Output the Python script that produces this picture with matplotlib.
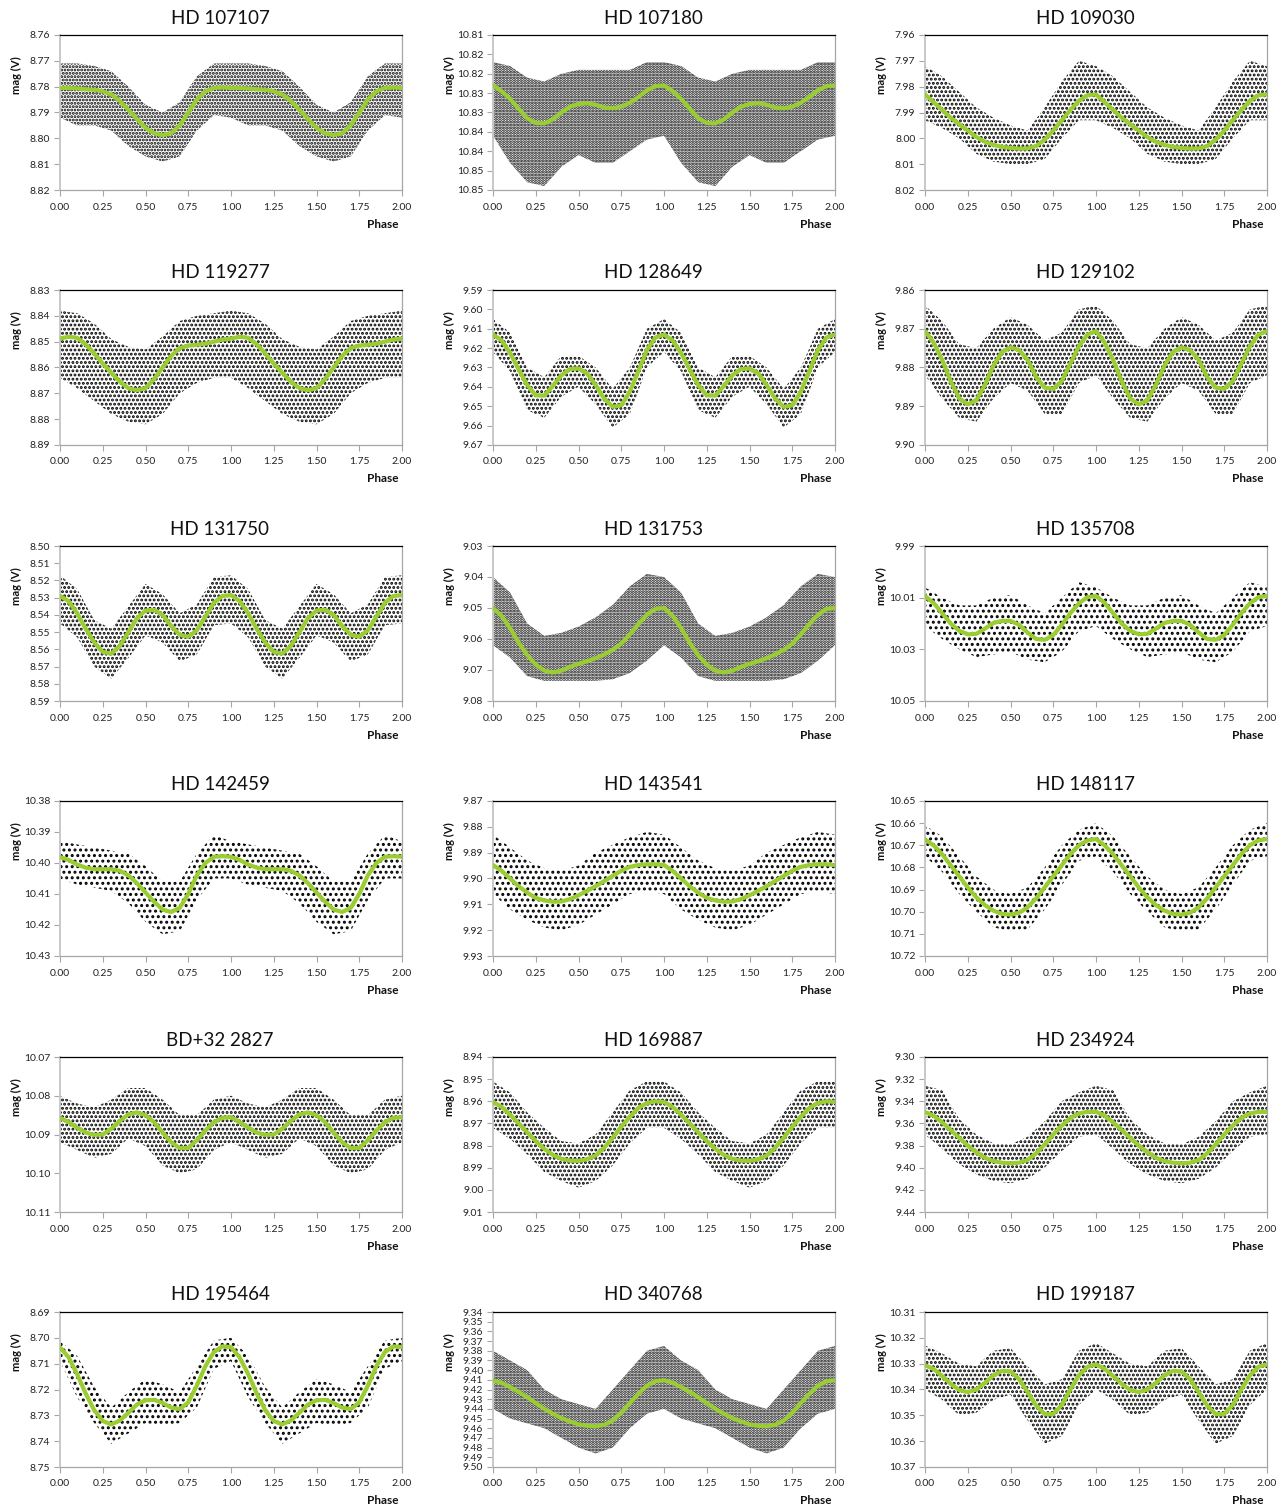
import numpy as np
import matplotlib
matplotlib.use("Agg")
import matplotlib.pyplot as plt
from decimal import Decimal, ROUND_HALF_UP

plt.rcParams['font.family'] = ['Lato', 'DejaVu Sans']
plt.rcParams['hatch.linewidth'] = 1.4

# ---------------- data ----------------
stars = ["HD 107107", "HD 107180", "HD 109030",
         "HD 119277", "HD 128649", "HD 129102",
         "HD 131750", "HD 131753", "HD 135708",
         "HD 142459", "HD 143541", "HD 148117",
         "BD+32 2827", "HD 169887", "HD 234924",
         "HD 195464", "HD 340768", "HD 199187"]

# y axis (magnitude) range: top value, bottom value, tick step
ylim_top = [8.76, 10.81, 7.96, 8.83, 9.59, 9.86, 8.50, 9.03, 9.99,
            10.38, 9.87, 10.65, 10.07, 8.94, 9.30, 8.69, 9.34, 10.31]
ylim_bottom = [8.82, 10.85, 8.02, 8.89, 9.67, 9.90, 8.59, 9.08, 10.05,
               10.43, 9.93, 10.72, 10.11, 9.01, 9.44, 8.75, 9.50, 10.37]
ytick_step = [0.01, 0.005, 0.01, 0.01, 0.01, 0.01, 0.01, 0.01, 0.02,
              0.01, 0.01, 0.01, 0.01, 0.01, 0.02, 0.01, 0.01, 0.01]

xticks = [0.00, 0.25, 0.50, 0.75, 1.00, 1.25, 1.50, 1.75, 2.00]
xtick_labels = ["0.00", "0.25", "0.50", "0.75", "1.00", "1.25", "1.50", "1.75", "2.00"]

# phases of the fitted curve samples (one cycle)
curve_phase = [0.00, 0.05, 0.10, 0.15, 0.20, 0.25, 0.30, 0.35, 0.40, 0.45, 0.50,
               0.55, 0.60, 0.65, 0.70, 0.75, 0.80, 0.85, 0.90, 0.95, 1.00]
# phases of the observed-point cloud edges (one cycle)
cloud_phase = [0.0, 0.1, 0.2, 0.3, 0.4, 0.5, 0.6, 0.7, 0.8, 0.9, 1.0]

fit_107107 = [8.7805, 8.7805, 8.7807, 8.7810, 8.7812, 8.7818, 8.7830, 8.7855, 8.7890, 8.7925, 8.7960,
              8.7980, 8.7988, 8.7980, 8.7950, 8.7900, 8.7850, 8.7818, 8.7805, 8.7803, 8.7805]
top_107107 = [8.771, 8.771, 8.772, 8.774, 8.780, 8.787, 8.790, 8.786, 8.776, 8.771, 8.771]
bot_107107 = [8.792, 8.795, 8.795, 8.797, 8.803, 8.807, 8.809, 8.807, 8.797, 8.791, 8.792]

fit_107180 = [10.8230, 10.8245, 10.8265, 10.8290, 10.8315, 10.8327, 10.8328, 10.8318, 10.8300, 10.8285, 10.8278,
              10.8276, 10.8280, 10.8287, 10.8289, 10.8285, 10.8275, 10.8260, 10.8243, 10.8232, 10.8230]
top_107180 = [10.817, 10.818, 10.821, 10.822, 10.820, 10.819, 10.819, 10.819, 10.819, 10.817, 10.817]
bot_107180 = [10.836, 10.843, 10.848, 10.849, 10.844, 10.841, 10.843, 10.843, 10.840, 10.837, 10.836]

fit_109030 = [7.9830, 7.9860, 7.9890, 7.9920, 7.9945, 7.9970, 7.9995, 8.0013, 8.0025, 8.0033, 8.0037,
              8.0040, 8.0039, 8.0030, 8.0005, 7.9970, 7.9930, 7.9890, 7.9855, 7.9833, 7.9830]
top_109030 = [7.972, 7.976, 7.982, 7.988, 7.992, 7.995, 7.997, 7.988, 7.978, 7.970, 7.972]
bot_109030 = [7.993, 7.996, 8.000, 8.006, 8.009, 8.010, 8.010, 8.008, 8.000, 7.993, 7.993]

fit_119277 = [8.8488, 8.8481, 8.8485, 8.8510, 8.8545, 8.8585, 8.8620, 8.8655, 8.8680, 8.8688, 8.8680,
              8.8645, 8.8600, 8.8555, 8.8525, 8.8515, 8.8512, 8.8508, 8.8500, 8.8492, 8.8488]
top_119277 = [8.838, 8.839, 8.843, 8.849, 8.852, 8.853, 8.848, 8.842, 8.840, 8.839, 8.838]
bot_119277 = [8.864, 8.868, 8.873, 8.878, 8.881, 8.882, 8.878, 8.870, 8.866, 8.864, 8.864]

fit_128649 = [9.6130, 9.6160, 9.6225, 9.6310, 9.6390, 9.6443, 9.6445, 9.6395, 9.6340, 9.6308, 9.6305,
              9.6330, 9.6390, 9.6460, 9.6503, 9.6495, 9.6425, 9.6320, 9.6210, 9.6145, 9.6130]
top_128649 = [9.605, 9.612, 9.630, 9.635, 9.624, 9.624, 9.630, 9.641, 9.630, 9.610, 9.605]
bot_128649 = [9.622, 9.632, 9.652, 9.656, 9.645, 9.640, 9.649, 9.661, 9.654, 9.630, 9.622]

fit_129102 = [9.8706, 9.8735, 9.8780, 9.8835, 9.8880, 9.8895, 9.8885, 9.8845, 9.8795, 9.8760, 9.8748,
              9.8755, 9.8780, 9.8825, 9.8852, 9.8855, 9.8835, 9.8790, 9.8745, 9.8715, 9.8706]
top_129102 = [9.864, 9.868, 9.874, 9.875, 9.870, 9.867, 9.869, 9.873, 9.871, 9.865, 9.864]
bot_129102 = [9.882, 9.888, 9.893, 9.894, 9.888, 9.884, 9.886, 9.892, 9.892, 9.884, 9.882]

fit_131750 = [8.5290, 8.5320, 8.5390, 8.5480, 8.5560, 8.5615, 8.5625, 8.5580, 8.5500, 8.5420, 8.5375,
              8.5370, 8.5400, 8.5465, 8.5515, 8.5527, 8.5490, 8.5410, 8.5330, 8.5290, 8.5285]
top_131750 = [8.517, 8.525, 8.543, 8.548, 8.535, 8.522, 8.528, 8.539, 8.534, 8.518, 8.517]
bot_131750 = [8.545, 8.553, 8.570, 8.577, 8.565, 8.552, 8.556, 8.567, 8.563, 8.546, 8.545]

fit_131753 = [9.0500, 9.0525, 9.0565, 9.0612, 9.0652, 9.0683, 9.0702, 9.0708, 9.0702, 9.0690, 9.0680,
              9.0672, 9.0662, 9.0650, 9.0635, 9.0615, 9.0585, 9.0552, 9.0522, 9.0503, 9.0500]
top_131753 = [9.040, 9.045, 9.055, 9.059, 9.058, 9.056, 9.053, 9.049, 9.043, 9.039, 9.040]
bot_131753 = [9.062, 9.066, 9.072, 9.0735, 9.0735, 9.0735, 9.0735, 9.073, 9.071, 9.067, 9.062]

fit_135708 = [10.0094, 10.0120, 10.0160, 10.0200, 10.0228, 10.0242, 10.0240, 10.0220, 10.0198, 10.0190, 10.0190,
              10.0205, 10.0235, 10.0260, 10.0263, 10.0245, 10.0205, 10.0160, 10.0122, 10.0098, 10.0093]
top_135708 = [10.006, 10.010, 10.013, 10.013, 10.010, 10.009, 10.013, 10.016, 10.010, 10.004, 10.006]
bot_135708 = [10.021, 10.026, 10.030, 10.033, 10.032, 10.031, 10.034, 10.035, 10.031, 10.023, 10.021]

fit_142459 = [10.3981, 10.3990, 10.4005, 10.4015, 10.4020, 10.4020, 10.4020, 10.4025, 10.4040, 10.4065, 10.4095,
              10.4125, 10.4150, 10.4158, 10.4145, 10.4100, 10.4040, 10.4000, 10.3980, 10.3978, 10.3980]
top_142459 = [10.393, 10.394, 10.395, 10.396, 10.397, 10.401, 10.406, 10.406, 10.397, 10.391, 10.393]
bot_142459 = [10.405, 10.407, 10.408, 10.409, 10.413, 10.419, 10.423, 10.422, 10.412, 10.405, 10.405]

fit_143541 = [9.8948, 9.8970, 9.9000, 9.9030, 9.9055, 9.9075, 9.9085, 9.9090, 9.9089, 9.9080, 9.9065,
              9.9048, 9.9030, 9.9010, 9.8990, 9.8970, 9.8955, 9.8948, 9.8945, 9.8945, 9.8948]
top_143541 = [9.883, 9.888, 9.893, 9.896, 9.897, 9.895, 9.890, 9.887, 9.884, 9.882, 9.883]
bot_143541 = [9.906, 9.912, 9.916, 9.919, 9.920, 9.918, 9.914, 9.910, 9.906, 9.905, 9.906]

fit_148117 = [10.6674, 10.6700, 10.6740, 10.6790, 10.6840, 10.6890, 10.6935, 10.6970, 10.6995, 10.7010, 10.7013,
              10.7005, 10.6980, 10.6940, 10.6890, 10.6840, 10.6790, 10.6740, 10.6700, 10.6678, 10.6672]
top_148117 = [10.661, 10.666, 10.675, 10.684, 10.690, 10.692, 10.689, 10.680, 10.670, 10.663, 10.660]
bot_148117 = [10.675, 10.682, 10.692, 10.700, 10.707, 10.709, 10.708, 10.699, 10.688, 10.677, 10.675]

fit_bd322827 = [10.0857, 10.0868, 10.0882, 10.0895, 10.0901, 10.0900, 10.0885, 10.0865, 10.0848, 10.0843, 10.0850,
                10.0868, 10.0895, 10.0920, 10.0935, 10.0935, 10.0915, 10.0890, 10.0868, 10.0857, 10.0855]
top_bd322827 = [10.080, 10.082, 10.083, 10.081, 10.078, 10.078, 10.081, 10.085, 10.085, 10.081, 10.080]
bot_bd322827 = [10.092, 10.094, 10.096, 10.095, 10.091, 10.093, 10.098, 10.100, 10.099, 10.094, 10.092]

fit_169887 = [8.9604, 8.9625, 8.9660, 8.9700, 8.9740, 8.9780, 8.9815, 8.9842, 8.9860, 8.9868, 8.9869,
              8.9862, 8.9845, 8.9810, 8.9765, 8.9715, 8.9670, 8.9630, 8.9608, 8.9600, 8.9603]
top_169887 = [8.951, 8.956, 8.965, 8.972, 8.978, 8.979, 8.975, 8.965, 8.955, 8.951, 8.951]
bot_169887 = [8.972, 8.977, 8.984, 8.992, 8.996, 8.999, 8.996, 8.989, 8.979, 8.972, 8.972]

fit_234924 = [9.3497, 9.3530, 9.3590, 9.3660, 9.3730, 9.3800, 9.3860, 9.3910, 9.3940, 9.3955, 9.3960,
              9.3955, 9.3930, 9.3870, 9.3790, 9.3700, 9.3620, 9.3550, 9.3510, 9.3495, 9.3495]
top_234924 = [9.326, 9.330, 9.356, 9.370, 9.378, 9.379, 9.372, 9.358, 9.340, 9.332, 9.326]
bot_234924 = [9.370, 9.383, 9.397, 9.406, 9.412, 9.414, 9.410, 9.400, 9.385, 9.372, 9.370]

fit_195464 = [8.7037, 8.7075, 8.7140, 8.7215, 8.7280, 8.7322, 8.7335, 8.7320, 8.7290, 8.7258, 8.7242,
              8.7240, 8.7252, 8.7270, 8.7276, 8.7250, 8.7185, 8.7110, 8.7055, 8.7033, 8.7036]
top_195464 = [8.701, 8.707, 8.719, 8.727, 8.721, 8.716, 8.718, 8.721, 8.711, 8.701, 8.700]
bot_195464 = [8.709, 8.723, 8.733, 8.741, 8.737, 8.733, 8.734, 8.733, 8.727, 8.712, 8.709]

fit_340768 = [9.4110, 9.4130, 9.4175, 9.4225, 9.4280, 9.4340, 9.4400, 9.4450, 9.4495, 9.4530, 9.4560,
              9.4575, 9.4580, 9.4565, 9.4520, 9.4440, 9.4340, 9.4245, 9.4160, 9.4115, 9.4105]
top_340768 = [9.380, 9.390, 9.400, 9.420, 9.430, 9.435, 9.440, 9.420, 9.400, 9.380, 9.375]
bot_340768 = [9.440, 9.450, 9.455, 9.460, 9.470, 9.480, 9.486, 9.480, 9.460, 9.445, 9.440]

fit_199187 = [10.3306, 10.3320, 10.3348, 10.3378, 10.3402, 10.3410, 10.3400, 10.3375, 10.3345, 10.3328, 10.3330,
              10.3360, 10.3410, 10.3462, 10.3495, 10.3495, 10.3460, 10.3400, 10.3345, 10.3312, 10.3303]
top_199187 = [10.323, 10.326, 10.330, 10.331, 10.325, 10.324, 10.331, 10.338, 10.336, 10.325, 10.322]
bot_199187 = [10.340, 10.344, 10.350, 10.349, 10.344, 10.342, 10.352, 10.361, 10.358, 10.346, 10.340]

fits = [fit_107107, fit_107180, fit_109030, fit_119277, fit_128649, fit_129102,
        fit_131750, fit_131753, fit_135708, fit_142459, fit_143541, fit_148117,
        fit_bd322827, fit_169887, fit_234924, fit_195464, fit_340768, fit_199187]
tops = [top_107107, top_107180, top_109030, top_119277, top_128649, top_129102,
        top_131750, top_131753, top_135708, top_142459, top_143541, top_148117,
        top_bd322827, top_169887, top_234924, top_195464, top_340768, top_199187]
bots = [bot_107107, bot_107180, bot_109030, bot_119277, bot_128649, bot_129102,
        bot_131750, bot_131753, bot_135708, bot_142459, bot_143541, bot_148117,
        bot_bd322827, bot_169887, bot_234924, bot_195464, bot_340768, bot_199187]

# ---------------- style / layout ----------------
# stipple density of the observation cloud (style only)
cloud_hatch = ['.....', '......', '....', '....', '....', '....',
               '....', '......', '...', '...', '...', '...',
               '....', '....', '....', '...', '......', '....']

W, H = 1285, 1511
col_left = [60, 493, 925]
row_top = [35, 290, 546, 801, 1057, 1312]
ax_w, ax_h = 342, 155
GREEN = '#9ACD32'
GRAY = '#a6a6a6'


def fmt2(v):
    return str(Decimal(repr(round(v, 4))).quantize(Decimal('0.01'), rounding=ROUND_HALF_UP))


fig = plt.figure(figsize=(W / 100, H / 100), dpi=100)

for i in range(18):
    r, c = divmod(i, 3)
    l = col_left[c]
    t = row_top[r]
    ax = fig.add_axes([l / W, 1 - (t + ax_h) / H, ax_w / W, ax_h / H])

    cp = np.array(cloud_phase)
    xc = np.concatenate([cp, cp[1:] + 1.0])
    yt = np.concatenate([tops[i], tops[i][1:]])
    yb = np.concatenate([bots[i], bots[i][1:]])
    ax.fill_between(xc, yt, yb, facecolor='none', edgecolor='black', linewidth=0,
                    hatch=cloud_hatch[i], zorder=2)

    fp = np.array(curve_phase)
    xf = np.concatenate([fp, fp[1:] + 1.0])
    yf = np.concatenate([fits[i], fits[i][1:]])
    ax.plot(xf, yf, color=GREEN, lw=3.0, solid_capstyle='round', solid_joinstyle='round', zorder=3)

    ax.set_xlim(0, 2)
    ax.set_ylim(ylim_bottom[i], ylim_top[i])
    n = int(round((ylim_bottom[i] - ylim_top[i]) / ytick_step[i]))
    yt_vals = [ylim_top[i] + k * ytick_step[i] for k in range(n + 1)]
    ax.set_yticks(yt_vals)
    ax.set_yticklabels([fmt2(v) for v in yt_vals])
    ax.set_xticks(xticks)
    ax.set_xticklabels(xtick_labels)

    ax.tick_params(axis='both', which='both', direction='out', length=4, width=0.8,
                   color=GRAY, labelsize=7.5, labelcolor='#222222', pad=3)
    ax.tick_params(axis='x', pad=5)

    ax.spines['top'].set_color('black')
    ax.spines['top'].set_linewidth(0.9)
    ax.spines['left'].set_color('#c8c8c8')
    ax.spines['left'].set_linewidth(1.4)
    ax.spines['right'].set_color(GRAY)
    ax.spines['right'].set_linewidth(0.9)
    ax.spines['bottom'].set_color(GRAY)
    ax.spines['bottom'].set_linewidth(0.9)

    ax.text(0.5 - 11 / ax_w, 1 + 17 / ax_h, stars[i], transform=ax.transAxes, ha='center',
            va='center', fontsize=13.5, color='#111111')
    ax.text(-44 / ax_w, 1 - 40 / ax_h, 'mag (V)', transform=ax.transAxes, rotation=90,
            ha='center', va='center', fontsize=8, fontweight='bold', color='#111111')
    ax.text(1 - 19 / ax_w, -34 / ax_h, 'Phase', transform=ax.transAxes, ha='center',
            va='center', fontsize=8.5, fontweight='bold', color='#111111')

fig.savefig('out.png', dpi=100, facecolor='white')
